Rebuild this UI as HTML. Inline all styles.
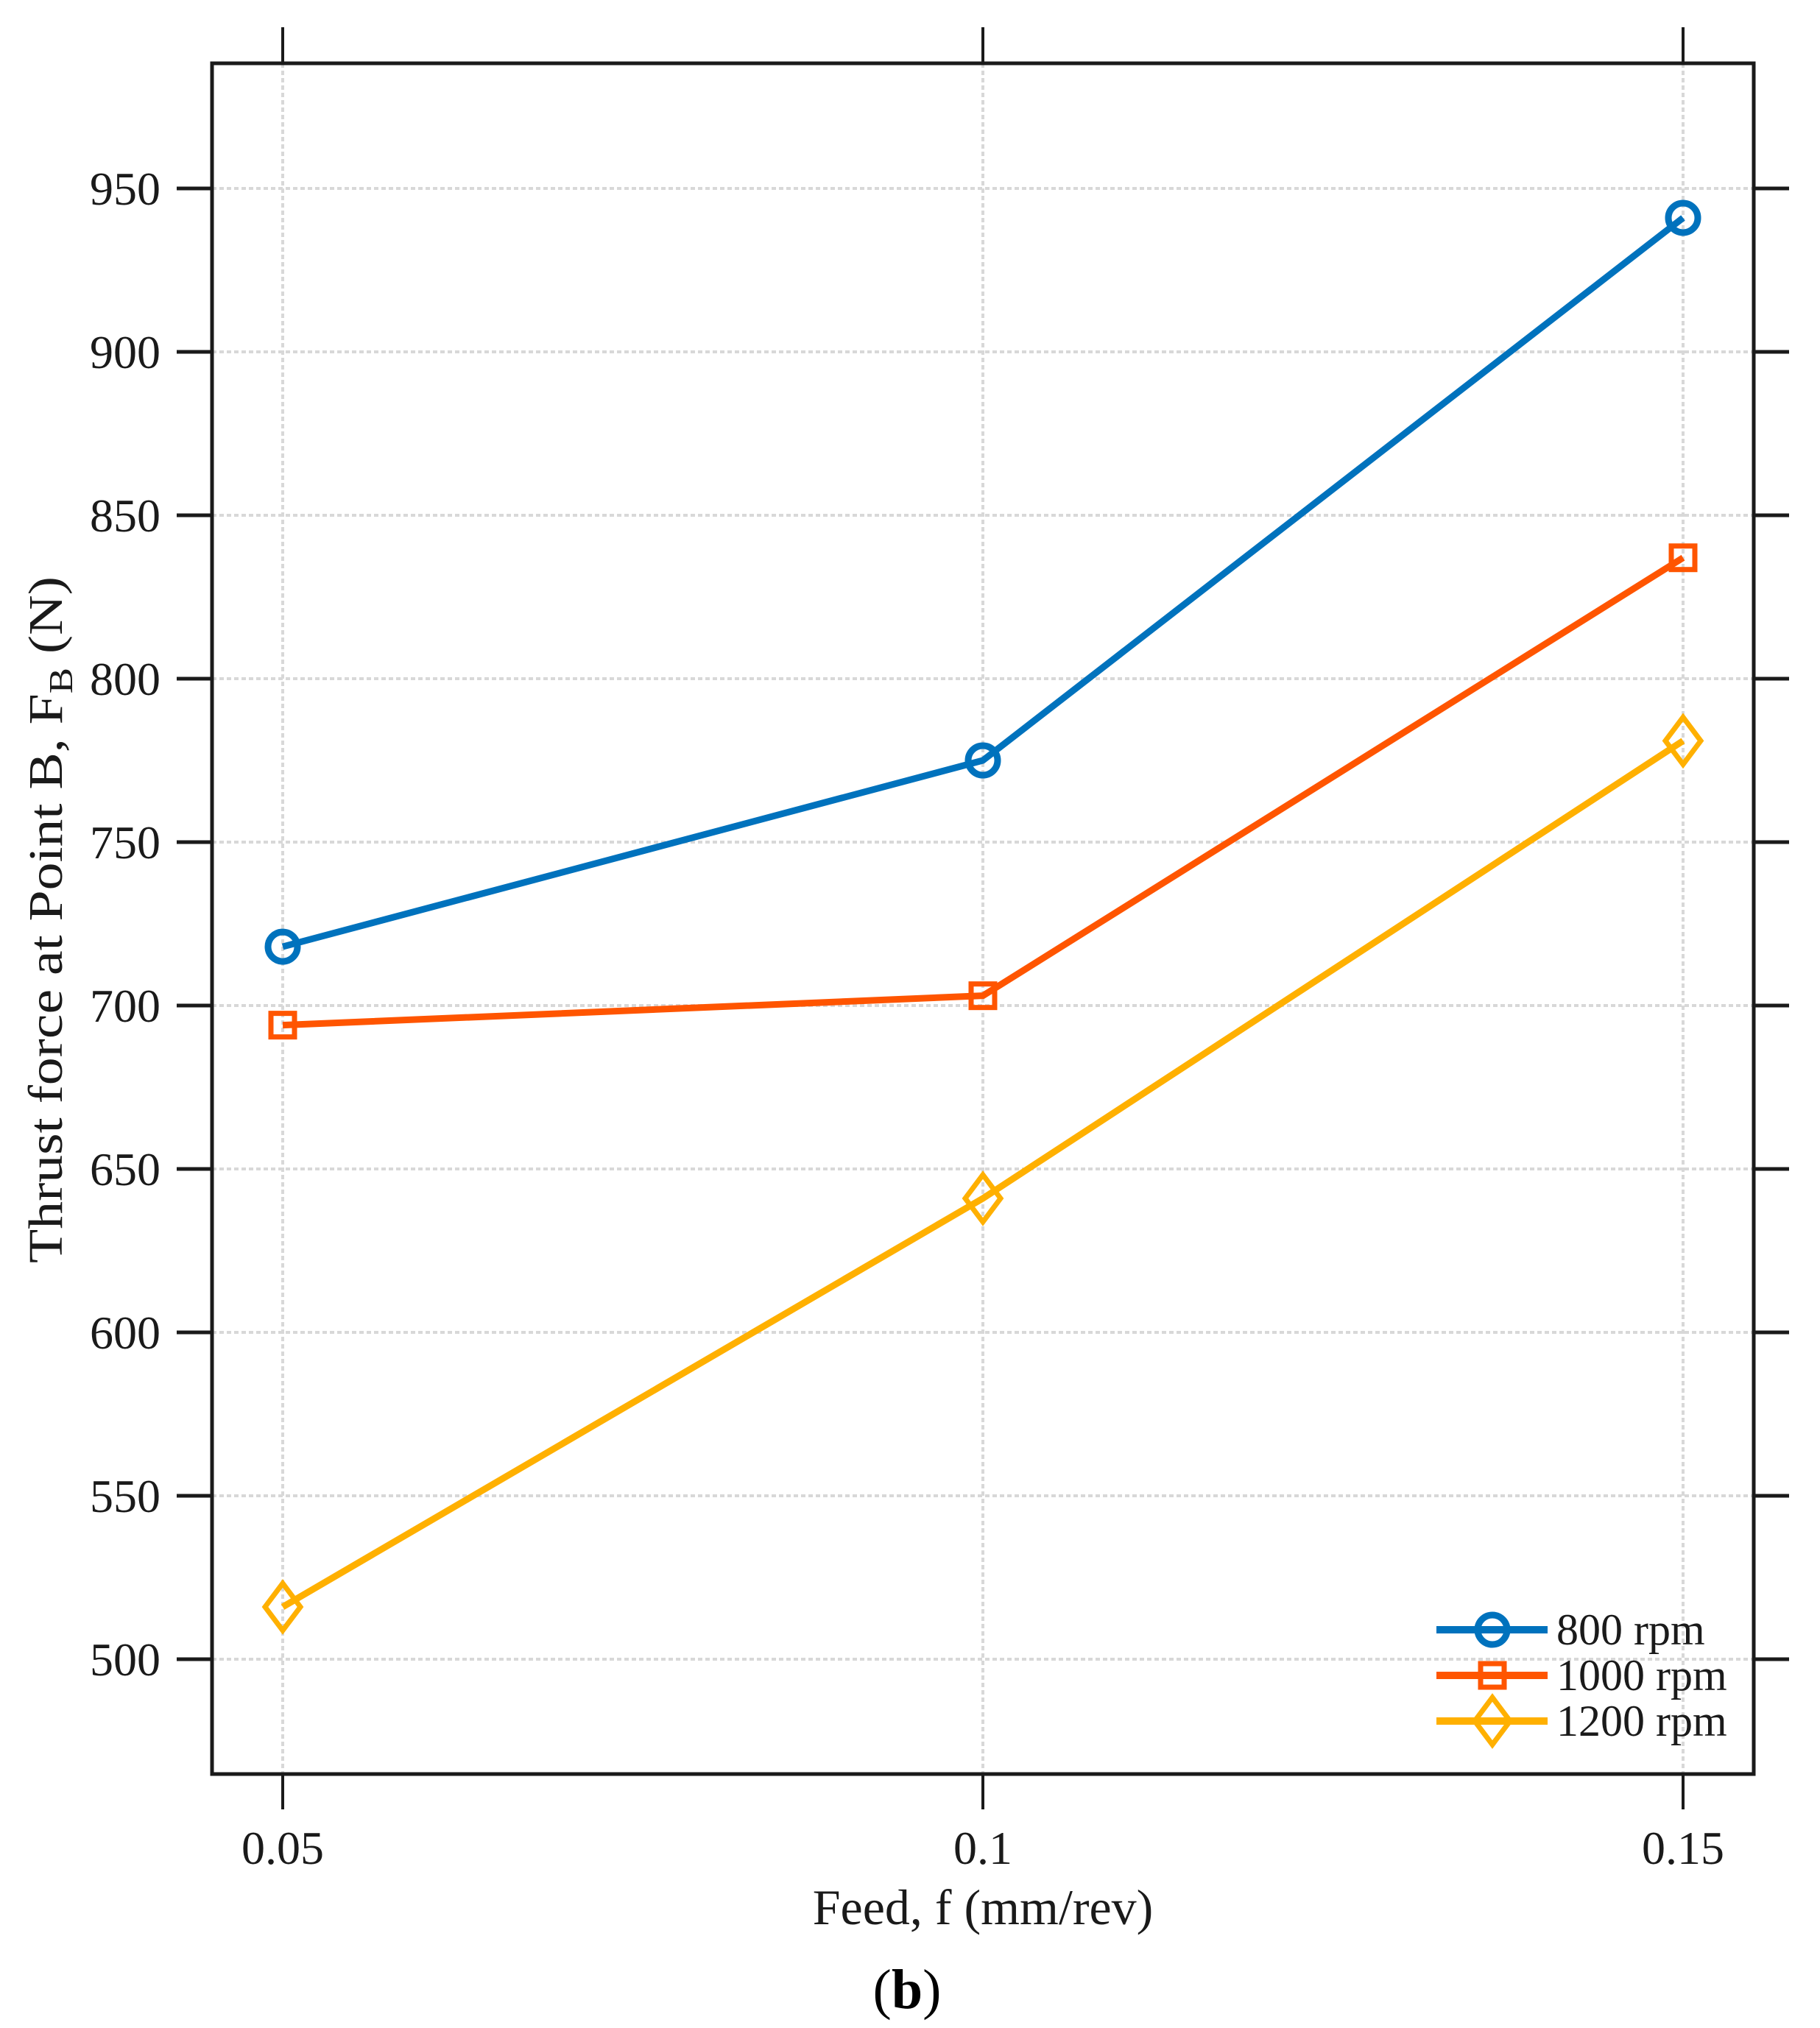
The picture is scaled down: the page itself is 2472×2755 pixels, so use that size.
<!DOCTYPE html>
<html><head><meta charset="utf-8"><style>
html,body{margin:0;padding:0;background:#fff;}
svg{display:block;font-family:"Liberation Serif",serif;}
</style></head><body>
<svg id="chart" width="2472" height="2755" viewBox="0 0 2472 2755" xmlns="http://www.w3.org/2000/svg">
<g id="grid"></g>
<g id="axes"></g>
<g id="series"></g>
<g id="legend"></g>
<text transform="translate(84,1716) rotate(-90)" font-size="66" fill="#1a1a1a" textLength="933" lengthAdjust="spacingAndGlyphs">Thrust  force  at  Point  B,  F<tspan font-size="46" dy="14">B</tspan><tspan dy="-14">  (N)</tspan></text>
<text x="1335" y="2614" font-size="68" text-anchor="middle" fill="#1a1a1a">Feed, f (mm/rev)</text>
<text x="1232" y="2728" font-size="76" text-anchor="middle" fill="#000">(<tspan font-weight="bold">b</tspan>)</text>
</svg>
<script>
const categories = [0.05, 0.1, 0.15];
const xTickLabels = ["0.05", "0.1", "0.15"];
const yTicks = [500, 550, 600, 650, 700, 750, 800, 850, 900, 950];
const seriesNames = ["800 rpm", "1000 rpm", "1200 rpm"];
const rpm800 = [718, 775, 941];
const rpm1000 = [694, 703, 837];
const rpm1200 = [516, 641, 781];

const NS = "http://www.w3.org/2000/svg";
const L = 288, R = 2382, T = 86, B = 2410;
function xs(v){ return 384 + (v - 0.05) / 0.05 * 951; }
function ys(v){ return 256 + (950 - v) * 4.44; }
function mk(tag, attrs, parent){ const e = document.createElementNS(NS, tag); for (const k in attrs) e.setAttribute(k, attrs[k]); parent.appendChild(e); return e; }

const grid = document.getElementById('grid'), axes = document.getElementById('axes'), ser = document.getElementById('series'), leg = document.getElementById('legend');
yTicks.forEach(v => {
  const y = ys(v);
  const g = mk('line', {x1: L, x2: R, y1: y, y2: y, stroke: '#d8d8d8', 'stroke-width': 4, 'stroke-dasharray': '6 4'}, grid);
  
  
  const t1 = mk('line', {x1: 240, x2: L, y1: y, y2: y, stroke: '#1a1a1a', 'stroke-width': 5}, axes);
  
  
  const t2 = mk('line', {x1: R, x2: 2430, y1: y, y2: y, stroke: '#1a1a1a', 'stroke-width': 5}, axes);
  
  
  const lb = mk('text', {x: 218, y: y + 22, 'font-size': 64, 'text-anchor': 'end', fill: '#1a1a1a'}, axes);
  lb.textContent = String(v);
  
  
});
categories.forEach((c, i) => {
  const x = xs(c);
  const g = mk('line', {x1: x, x2: x, y1: T, y2: B, stroke: '#d8d8d8', 'stroke-width': 4, 'stroke-dasharray': '6 4'}, grid);
  
  
  const t1 = mk('line', {x1: x, x2: x, y1: 37, y2: T, stroke: '#1a1a1a', 'stroke-width': 4}, axes);
  
  
  const t2 = mk('line', {x1: x, x2: x, y1: B, y2: 2458, stroke: '#1a1a1a', 'stroke-width': 4}, axes);
  
  
  const lb = mk('text', {x: x, y: 2532, 'font-size': 64, 'text-anchor': 'middle', fill: '#1a1a1a'}, axes);
  lb.textContent = xTickLabels[i];
  
  
});
const frame = mk('rect', {x: L, y: T, width: R - L, height: B - T, fill: 'none', stroke: '#1a1a1a', 'stroke-width': 5}, axes);



function marker(type, cx, cy, color, parent){
  let m;
  if (type === 'circle') m = mk('circle', {cx: cx, cy: cy, r: 20, fill: 'none', stroke: color, 'stroke-width': 9}, parent);
  else if (type === 'square') m = mk('rect', {x: cx - 16, y: cy - 16, width: 32, height: 32, fill: 'none', stroke: color, 'stroke-width': 7}, parent);
  else m = mk('polygon', {points: `${cx},${cy-32} ${cx+24},${cy} ${cx},${cy+32} ${cx-24},${cy}`, fill: 'none', stroke: color, 'stroke-width': 7}, parent);
  return m;
}
const defs = [[rpm800, '#0072BD', 'circle', 'series-800rpm'], [rpm1000, '#FF5500', 'square', 'series-1000rpm'], [rpm1200, '#FFB000', 'diamond', 'series-1200rpm']];
defs.forEach(([vals, col, mt, name], si) => {
  const pts = vals.map((v, i) => xs(categories[i]) + ',' + ys(v)).join(' ');
  const pl = mk('polyline', {points: pts, fill: 'none', stroke: col, 'stroke-width': 9, 'stroke-linejoin': 'round'}, ser);
  
  
  vals.forEach((v, i) => {
    const m = marker(mt, xs(categories[i]), ys(v), col, ser);
    
    
  });
  const ly = 2214 + si * 62;
  const ll = mk('line', {x1: 1951, x2: 2102, y1: ly, y2: ly, stroke: col, 'stroke-width': 10}, leg);
  
  
  const lm = marker(mt, 2027, ly, col, leg);
  
  
  const lt = mk('text', {x: 2114, y: ly + 20, 'font-size': 60, fill: '#1a1a1a'}, leg);
  lt.textContent = seriesNames[si];
  
  
});
</script>
</body></html>
